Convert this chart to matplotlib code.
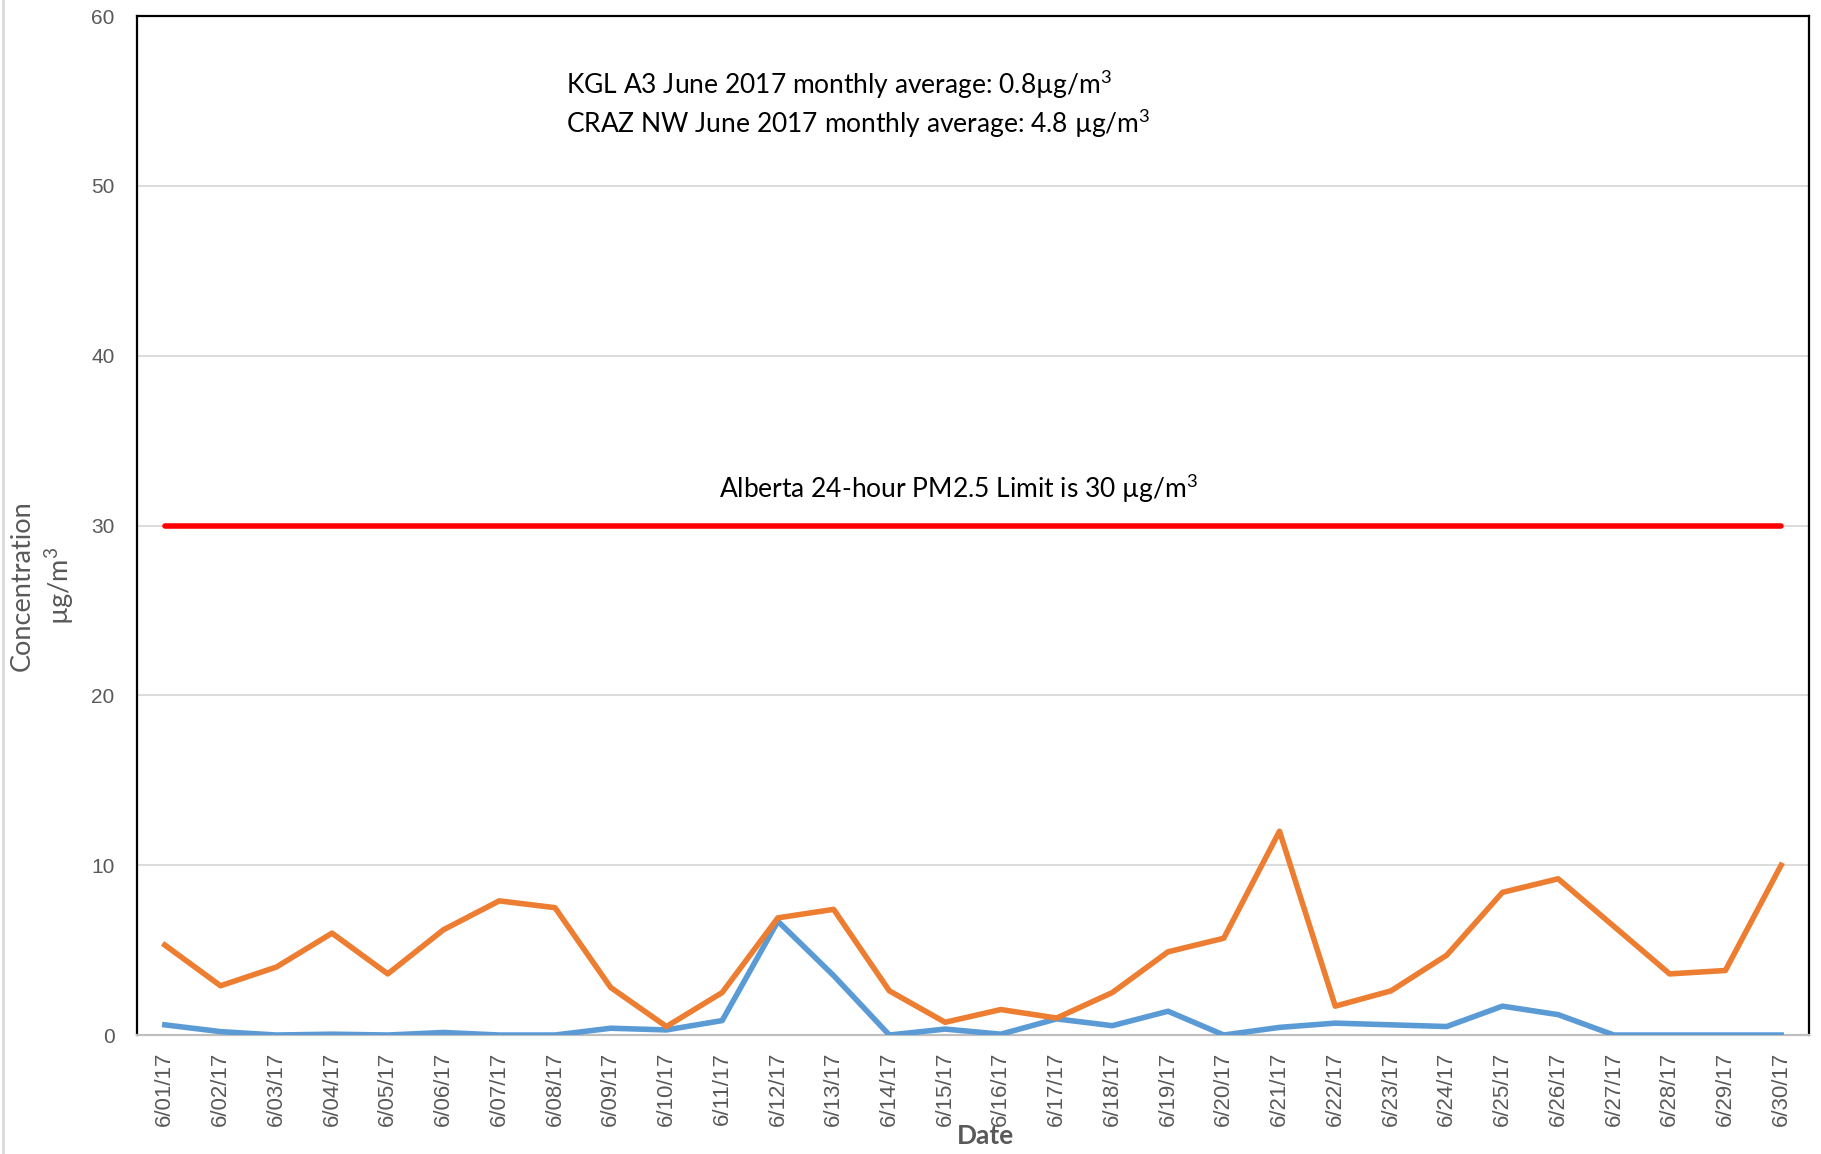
import matplotlib
matplotlib.use("Agg")
import matplotlib.pyplot as plt
from matplotlib.lines import Line2D

plt.rcParams['font.family'] = ['Lato', 'DejaVu Sans']
plt.rcParams['mathtext.fontset'] = 'custom'
plt.rcParams['mathtext.rm'] = 'Lato'
plt.rcParams['mathtext.it'] = 'Lato:italic'
plt.rcParams['mathtext.default'] = 'regular'

dates = ['6/01/17', '6/02/17', '6/03/17', '6/04/17', '6/05/17', '6/06/17', '6/07/17', '6/08/17',
         '6/09/17', '6/10/17', '6/11/17', '6/12/17', '6/13/17', '6/14/17', '6/15/17', '6/16/17',
         '6/17/17', '6/18/17', '6/19/17', '6/20/17', '6/21/17', '6/22/17', '6/23/17', '6/24/17',
         '6/25/17', '6/26/17', '6/27/17', '6/28/17', '6/29/17', '6/30/17']

# CRAZ NW (orange)
craz_nw = [5.3, 2.9, 4.0, 6.0, 3.6, 6.2, 7.9, 7.5, 2.8, 0.5, 2.5, 6.9, 7.4, 2.6, 0.75,
           1.5, 1.0, 2.5, 4.9, 5.7, 12.0, 1.7, 2.6, 4.7, 8.4, 9.2, 6.4, 3.6, 3.8, 10.0]
# KGL A3 (blue)
kgl_a3 = [0.6, 0.2, 0.0, 0.05, 0.0, 0.15, 0.0, 0.0, 0.4, 0.3, 0.85, 6.7, 3.5, 0.0, 0.35,
          0.05, 0.95, 0.55, 1.4, 0.0, 0.45, 0.7, 0.6, 0.5, 1.7, 1.2, 0.0, 0.0, 0.0, 0.0]
yticks = [0, 10, 20, 30, 40, 50, 60]
limit = 30

grey = '#595959'

fig = plt.figure(figsize=(18.21, 11.54), dpi=100)
ax = fig.add_axes([0.0752, 0.1031, 0.9182, 0.8829])

x = list(range(len(dates)))
ax.plot(x, [limit] * len(x), color='#FF0000', lw=4.0, solid_capstyle='round', zorder=3)
ax.plot(x, kgl_a3, color='#5B9BD5', lw=4.0, zorder=4)
ax.plot(x, craz_nw, color='#ED7D31', lw=4.0, zorder=5)

ax.set_xlim(-0.5, len(dates) - 0.5)
ax.set_ylim(0, 60)
ax.yaxis.grid(True, color='#D9D9D9', lw=1.3)
ax.set_axisbelow(True)
ax.set_xticks(x)
ax.set_xticklabels(dates, rotation=90, fontsize=16, family='Liberation Sans', color=grey)
ax.set_yticks(yticks)
ax.set_yticklabels([str(v) for v in yticks], fontsize=15, family='Liberation Sans', color=grey)
ax.tick_params(axis='both', length=0)
ax.tick_params(axis='x', pad=12)
ax.tick_params(axis='y', pad=16)

for s in ['left', 'top', 'right']:
    ax.spines[s].set_color('black')
    ax.spines[s].set_linewidth(1.6)
ax.spines['bottom'].set_color('#BFBFBF')
ax.spines['bottom'].set_linewidth(1.6)

ax.text(7.19, 55.95, r'KGL A3 June 2017 monthly average: 0.8µg/m$^{3}$', fontsize=19, va='center', ha='left')
ax.text(7.19, 53.7, r'CRAZ NW June 2017 monthly average: 4.8 µg/m$^{3}$', fontsize=19, va='center', ha='left')
ax.text(14.25, 32.2, r'Alberta 24-hour PM2.5 Limit is 30 µg/m$^{3}$', fontsize=19, va='center', ha='center')

fig.text(985 / 1821, 1 - 1136 / 1154, 'Date', fontsize=19, fontweight='bold', color=grey,
         ha='center', va='center')
fig.text(43 / 1821, 1 - 586 / 1154, 'Concentration\n' + r'µg/m$^{3}$', fontsize=19.5, color=grey, rotation=90,
         ha='center', va='center', multialignment='center', linespacing=1.3)

# light chart border on the left edge
fig.add_artist(Line2D([0.0015, 0.0015], [0, 1], transform=fig.transFigure, color='#D9D9D9', lw=2))

fig.savefig('out.png', dpi=100)
